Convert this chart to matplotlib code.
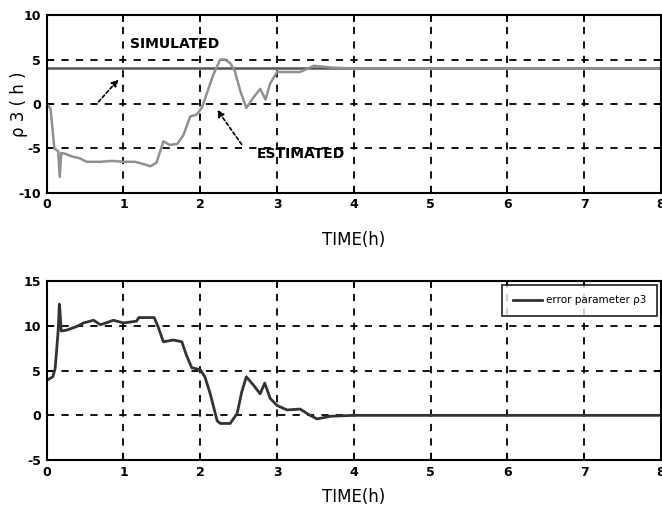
import matplotlib
matplotlib.use("Agg")
import matplotlib.pyplot as plt
import numpy as np

plt.rcParams['font.family'] = ['Liberation Sans Narrow', 'DejaVu Sans']

# Top panel: simulated vs estimated rho3
t_sim = [0, 8]
rho_sim = [4.0, 4.0]

t_est = [0.0, 0.05, 0.10, 0.15, 0.17, 0.19, 0.24, 0.33, 0.43, 0.52, 0.70, 0.85, 1.0, 1.15,
         1.28, 1.35, 1.43, 1.52, 1.60, 1.70, 1.78, 1.87, 1.95, 2.02, 2.08, 2.17, 2.26,
         2.32, 2.39, 2.45, 2.52, 2.60, 2.69, 2.78, 2.85, 2.91, 3.0, 3.3, 3.48, 3.6, 3.7,
         4.0, 8.0]
rho_est = [0.0, -0.5, -5.0, -5.3, -8.2, -5.5, -5.6, -5.9, -6.1, -6.5, -6.5, -6.4, -6.5, -6.5,
           -6.8, -7.0, -6.6, -4.2, -4.6, -4.5, -3.5, -1.4, -1.2, -0.45, 1.06, 3.3, 5.0,
           5.0, 4.6, 3.7, 1.5, -0.45, 0.7, 1.7, 0.5, 2.3, 3.6, 3.6, 4.3, 4.2, 4.1,
           4.0, 4.0]

# Bottom panel: error parameter rho3
t_err = [0.0, 0.08, 0.11, 0.13, 0.15, 0.165, 0.17, 0.19, 0.26, 0.39, 0.48, 0.61, 0.70,
         0.87, 1.0, 1.17, 1.20, 1.40, 1.45, 1.52, 1.65, 1.76, 1.82, 1.89, 2.0, 2.06,
         2.13, 2.22, 2.26, 2.39, 2.48, 2.54, 2.60, 2.69, 2.78, 2.84, 2.91, 3.0, 3.13,
         3.3, 3.43, 3.52, 3.7, 4.0, 8.0]
err = [3.9, 4.3, 5.2, 7.3, 9.5, 12.4, 12.0, 9.4, 9.5, 9.9, 10.3, 10.6, 10.1,
       10.6, 10.3, 10.5, 10.9, 10.9, 9.9, 8.2, 8.4, 8.2, 6.7, 5.3, 5.1, 4.3,
       2.4, -0.6, -0.9, -0.9, 0.2, 2.6, 4.3, 3.4, 2.4, 3.6, 1.9, 1.1, 0.6,
       0.7, 0.0, -0.4, -0.1, 0.0, 0.0]

xticks = [0, 1, 2, 3, 4, 5, 6, 7, 8]
top_yticks = [-10, -5, 0, 5, 10]
bot_yticks = [-5, 0, 5, 10, 15]

fig = plt.figure(figsize=(6.62, 5.2), dpi=100)
ax1 = fig.add_axes([0.0705, 0.629, 0.928, 0.342])
ax2 = fig.add_axes([0.0705, 0.115, 0.928, 0.345])

def style(ax, yticks, pad):
    ax.set_xlim(0, 8)
    ax.set_ylim(yticks[0], yticks[-1])
    ax.set_xticks(xticks)
    ax.set_yticks(yticks)
    ax.set_xticklabels([str(v) for v in xticks], fontsize=9, fontweight='bold')
    ax.set_yticklabels([str(v) for v in yticks], fontsize=9, fontweight='bold')
    ax.grid(True, color='black', linestyle=(0, (4, 4)), linewidth=1.3)
    ax.tick_params(direction='in', length=5, width=1.3, top=True, right=True, pad=4)
    for s in ax.spines.values():
        s.set_linewidth(1.5)
    ax.set_xlabel('TIME(h)', fontsize=12, labelpad=pad)

style(ax1, top_yticks, 14)
ax1.plot(t_sim, rho_sim, color='#555555', linewidth=1.8)
ax1.plot(t_est, rho_est, color='#909090', linewidth=1.8)
ax1.set_ylabel('ρ 3 ( h )', fontsize=12, family=['DejaVu Sans'])
ax1.yaxis.set_label_coords(-0.03, 0.5)
ax1.text(1.08, 6.7, 'SIMULATED', fontsize=10, fontweight='bold', va='center', ha='left')
ax1.annotate('', xy=(0.96, 3.0), xytext=(0.65, 0.0),
             arrowprops=dict(arrowstyle='-|>', linestyle=(0, (2, 1.5)), color='black', lw=1.2))
ax1.text(2.74, -5.6, 'ESTIMATED', fontsize=10, fontweight='bold', va='center', ha='left')
ax1.annotate('', xy=(2.2, -0.4), xytext=(2.56, -4.8),
             arrowprops=dict(arrowstyle='-|>', linestyle=(0, (2, 1.5)), color='black', lw=1.2))

style(ax2, bot_yticks, 7)
ax2.plot(t_err, err, color='#333333', linewidth=2.0, label='error parameter ρ3')
leg = ax2.legend(loc='upper right', fontsize=7.5, frameon=True, fancybox=False,
                 edgecolor='black', handlelength=2.8, borderpad=1.0, borderaxespad=0.4,
                 handletextpad=0.4)
leg.get_frame().set_linewidth(1.3)

fig.savefig('out.png', dpi=100, facecolor='white')
